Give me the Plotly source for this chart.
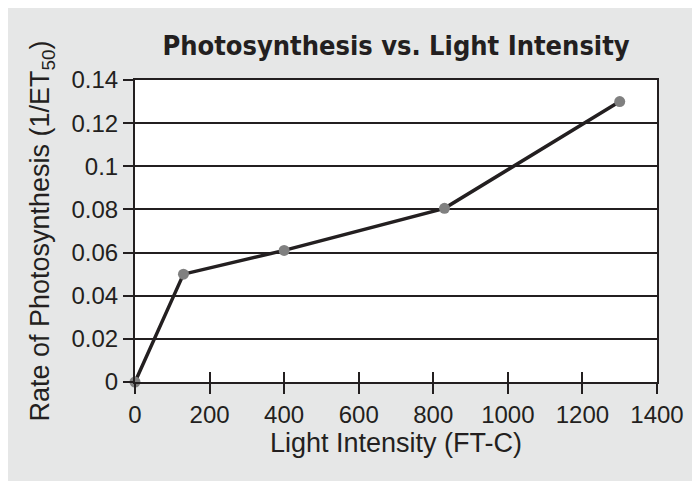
import plotly.graph_objects as go

light_intensity = [0, 130, 400, 830, 1300]
photosynthesis_rate = [0, 0.050, 0.061, 0.0805, 0.13]

x_tick_vals = [0, 200, 400, 600, 800, 1000, 1200, 1400]
x_tick_text = ["0", "200", "400", "600", "800", "1000", "1200", "1400"]
y_tick_vals = [0, 0.02, 0.04, 0.06, 0.08, 0.10, 0.12, 0.14]
y_tick_text = ["0", "0.02", "0.04", "0.06", "0.08", "0.1", "0.12", "0.14"]

title_text = "Photosynthesis vs. Light Intensity"
x_title = "Light Intensity (FT-C)"
y_title = "Rate of Photosynthesis (1/ET<sub>50</sub>)"

INK = "#231f20"
GRAY_BG = "#e6e7e7"
FONT = "Liberation Sans, Arial, sans-serif"

W, H = 700, 481
ML, MR, MT, MB = 127, 51, 72, 107

fig = go.Figure()
fig.add_trace(go.Scatter(
    x=light_intensity, y=photosynthesis_rate, mode="lines+markers",
    line=dict(color=INK, width=3.5),
    marker=dict(color="#808080", size=11),
    cliponaxis=False, hoverinfo="skip", showlegend=False,
))
# invisible trace to host the overlay axes (for inward tick halves)
fig.add_trace(go.Scatter(
    x=light_intensity, y=photosynthesis_rate, mode="markers",
    marker=dict(opacity=0), xaxis="x2", yaxis="y2",
    hoverinfo="skip", showlegend=False,
))

axis_common = dict(ticklen=10, tickwidth=2, tickcolor=INK, zeroline=False)

fig.update_layout(
    width=W, height=H,
    margin=dict(l=ML, r=MR, t=MT, b=MB, autoexpand=False),
    paper_bgcolor=GRAY_BG, plot_bgcolor="white",
    font=dict(family=FONT, size=24, color=INK),
    title=dict(text=title_text, x=(ML + (W - ML - MR) / 2) / W, xanchor="center",
               y=1 - 38 / H, yanchor="middle", yref="container",
               font=dict(family="Liberation Sans Narrow, DejaVu Sans Condensed, sans-serif",
                         size=27, color=INK, weight="bold")),
    xaxis=dict(range=[0, 1400], tickvals=x_tick_vals, ticktext=x_tick_text,
               ticks="outside", showgrid=False, showline=True, linecolor=INK,
               linewidth=2, mirror=True,
               title=dict(text=x_title, standoff=4, font=dict(size=27)),
               tickfont=dict(size=24), **axis_common),
    yaxis=dict(range=[0, 0.14], tickvals=y_tick_vals, ticktext=y_tick_text,
               ticks="outside", showgrid=True, gridcolor=INK, gridwidth=2,
               showline=True, linecolor=INK, linewidth=2, mirror=True,
               title=dict(text=y_title, standoff=14, font=dict(size=27)),
               tickfont=dict(size=24), **axis_common),
    xaxis2=dict(range=[0, 1400], tickvals=x_tick_vals, overlaying="x",
                side="bottom", ticks="inside", showticklabels=False,
                showgrid=False, showline=False, **axis_common),
    yaxis2=dict(range=[0, 0.14], tickvals=y_tick_vals, overlaying="y",
                side="left", ticks="inside", showticklabels=False,
                showgrid=False, showline=False, **axis_common),
)

fig.write_html("out.html")
